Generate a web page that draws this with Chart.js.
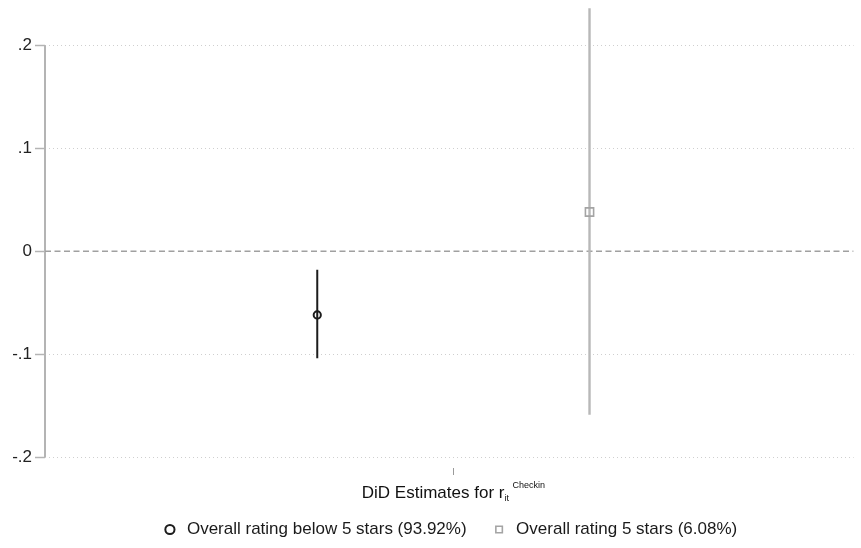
<!DOCTYPE html>
<html><head><meta charset="utf-8">
<script src="https://cdn.jsdelivr.net/npm/chart.js@4.4.1/dist/chart.umd.min.js"></script>
<style>html,body{margin:0;padding:0;background:#fff}canvas{display:block}</style>
</head><body>
<canvas id="c" width="861" height="548"></canvas>
<script>
// ---- data ----
const seriesNames = ['Overall rating below 5 stars (93.92%)', 'Overall rating 5 stars (6.08%)'];
const seriesPos = [-1, 1];
const estimates = [-0.062, 0.038];
const ciLow = [-0.104, -0.159];
const ciHigh = [-0.018, 0.236];
const yTickValues = [-0.2, -0.1, 0, 0.1, 0.2];
const yTickLabels = ['-.2', '-.1', '0', '.1', '.2'];
const xTickValues = [0];
const xRange = [-3, 2.94];
const yRange = [-0.2, 0.2368];
const xTitleMain = 'DiD Estimates for r';
const xTitleSub = 'it';
const xTitleSup = 'Checkin';

// ---- styles ----
const FAM = "'Liberation Sans', Arial, sans-serif";
const lineColors = ['#1c1c1c', '#b8b8b8'];
const markerColors = ['#1c1c1c', '#a4a4a4'];
const markerStyles = ['circle', 'rect'];
const markerRadius = [3.6, 5.8];
const markerBorder = [2, 1.6];
const lineWidths = [2, 2.4];

Chart.defaults.font.family = FAM;

const datasets = [];
// reference line at zero
datasets.push({
  type: 'line', label: 'zero', order: 3,
  data: [{x: xRange[0], y: 0}, {x: xRange[1], y: 0}],
  borderColor: '#a0a0a0', borderWidth: 1.5, borderDash: [6, 3.5],
  pointRadius: 0, fill: false
});
// y axis line spanning the labelled range
datasets.push({
  type: 'line', label: 'yaxis', order: 3, clip: false,
  data: [{x: xRange[0], y: yTickValues[0]}, {x: xRange[0], y: yTickValues[yTickValues.length - 1]}],
  borderColor: '#b4b4b4', borderWidth: 2, pointRadius: 0, fill: false
});
// confidence intervals
seriesNames.forEach((n, i) => {
  datasets.push({
    type: 'line', label: n + ' CI', order: 2,
    data: [{x: seriesPos[i], y: ciLow[i]}, {x: seriesPos[i], y: ciHigh[i]}],
    borderColor: lineColors[i], borderWidth: lineWidths[i], pointRadius: 0, fill: false,
    borderCapStyle: 'butt'
  });
});
// point estimates
seriesNames.forEach((n, i) => {
  datasets.push({
    type: 'scatter', label: n, order: 0, showInLegend: true,
    data: [{x: seriesPos[i], y: estimates[i]}],
    pointStyle: markerStyles[i], pointRadius: markerRadius[i],
    borderColor: markerColors[i], backgroundColor: 'rgba(0,0,0,0)',
    borderWidth: markerBorder[i]
  });
});

const xTitlePlugin = {
  id: 'xTitleRich',
  afterDraw(chart) {
    const s = chart.scales.x, ctx = chart.ctx;
    const xc = s.getPixelForValue(xTickValues[0]);
    ctx.save();
    ctx.fillStyle = '#111';
    ctx.textAlign = 'left';
    ctx.textBaseline = 'alphabetic';
    ctx.font = '17px ' + FAM;
    const wMain = ctx.measureText(xTitleMain).width;
    ctx.font = '9px ' + FAM;
    const wSub = ctx.measureText(xTitleSub).width;
    const wSup = ctx.measureText(xTitleSup).width;
    const supOff = 8;
    const total = wMain + Math.max(wSub, supOff + wSup);
    const x0 = xc - total / 2;
    const yb = s.top + 41;
    ctx.font = '17px ' + FAM;
    ctx.fillText(xTitleMain, x0, yb);
    ctx.font = '9px ' + FAM;
    ctx.fillText(xTitleSub, x0 + wMain, yb + 3);
    ctx.fillText(xTitleSup, x0 + wMain + supOff, yb - 10);
    ctx.restore();
  }
};

new Chart(document.getElementById('c'), {
  data: { datasets },
  plugins: [xTitlePlugin],
  options: {
    responsive: false,
    animation: false,
    devicePixelRatio: 1,
    layout: { padding: { left: 0, right: 3, top: 0, bottom: 0 } },
    plugins: {
      tooltip: { enabled: false },
      legend: {
        position: 'bottom',
        fullSize: false,
        labels: {
          usePointStyle: true,
          boxWidth: 17,
          boxHeight: 6.5,
          padding: 24,
          color: '#1a1a1a',
          font: { size: 17, family: FAM },
          filter: (item, data) => !!data.datasets[item.datasetIndex].showInLegend
        }
      }
    },
    scales: {
      x: {
        type: 'linear',
        min: xRange[0], max: xRange[1],
        afterBuildTicks: s => { s.ticks = xTickValues.map(v => ({value: v})); },
        afterFit: s => { s.height = 40; s.paddingLeft = 0; s.paddingRight = 0; },
        ticks: { display: false },
        border: { display: false },
        grid: {
          drawOnChartArea: false, drawTicks: true, tickLength: 18,
          tickColor: '#9a9a9a', tickWidth: 1, tickBorderDash: [0, 11, 7, 100]
        }
      },
      y: {
        type: 'linear',
        min: yRange[0], max: yRange[1],
        afterBuildTicks: s => { s.ticks = yTickValues.map(v => ({value: v})); },
        afterFit: s => { s.width = 45; s.paddingTop = 0; s.paddingBottom = 0; },
        ticks: {
          color: '#222', padding: 3,
          font: { size: 17, family: FAM },
          callback: (v) => yTickLabels[yTickValues.indexOf(v)]
        },
        border: { display: false, dash: [1, 3] },
        grid: {
          color: ctx => (ctx.tick && ctx.tick.value === 0) ? 'rgba(0,0,0,0)' : '#cfcfcf',
          lineWidth: 1,
          tickLength: 10, tickColor: '#b4b4b4', tickWidth: 1.5
        }
      }
    }
  }
});
</script>
</body></html>
